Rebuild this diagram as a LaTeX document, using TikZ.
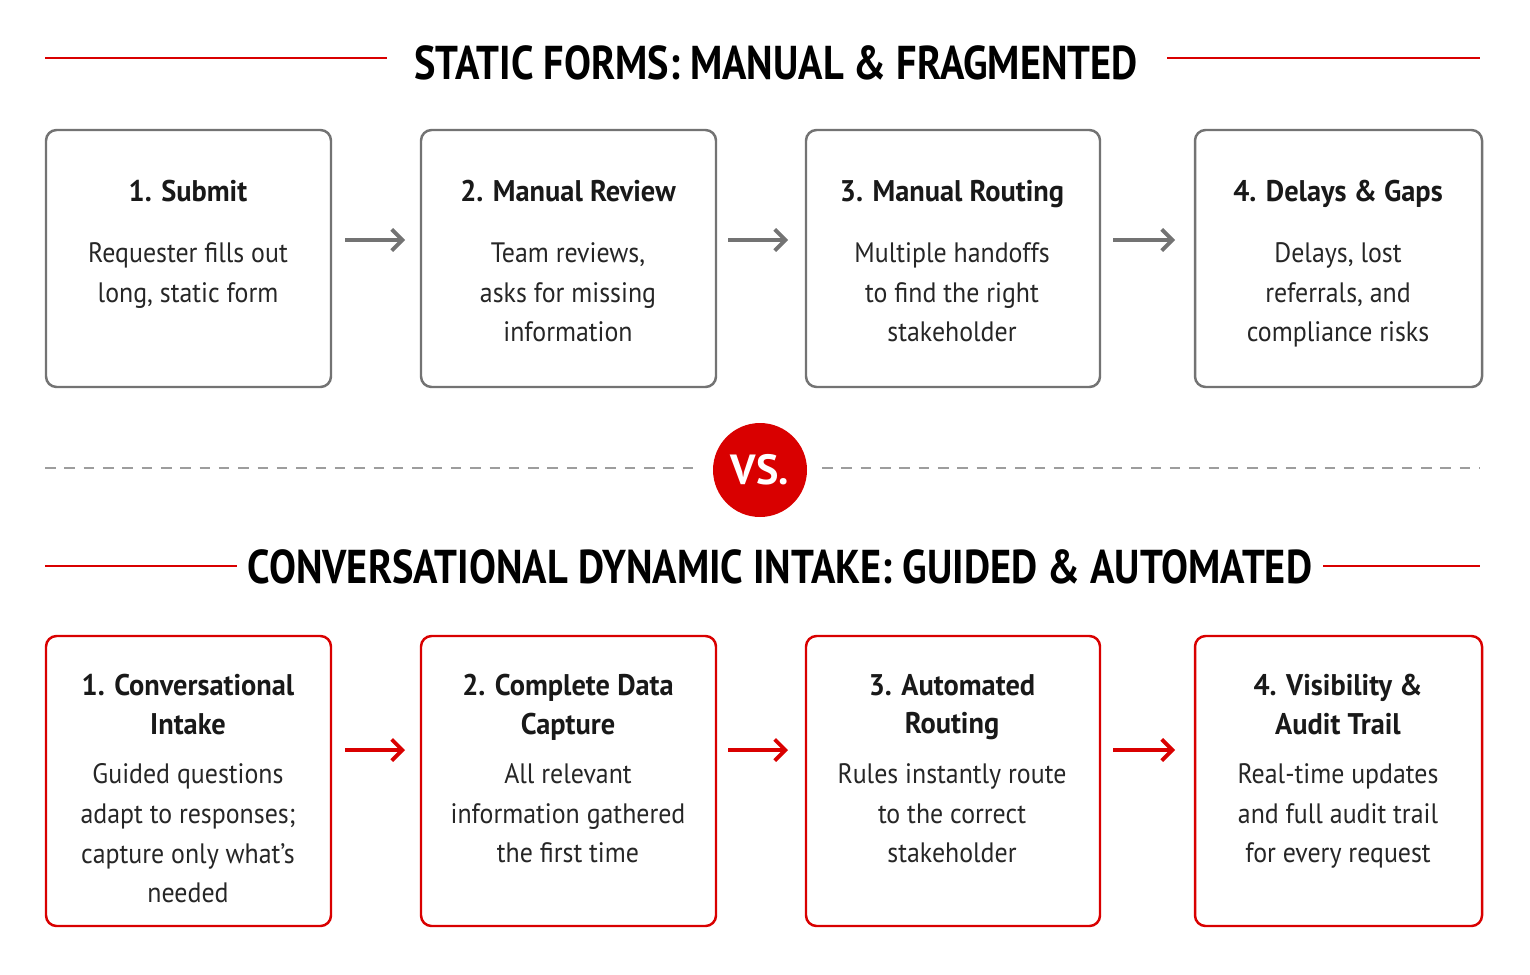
\documentclass[tikz,border=0pt]{standalone}
\usepackage{fontspec}
\setmainfont{PT Sans}
\usetikzlibrary{positioning,arrows.meta}
\colorlet{accred}{red!85!black}
\colorlet{boxgray}{black!55}
\tikzset{
  box/.style={draw=boxgray, line width=1.4pt, rounded corners=6pt},
  head/.style={font=\fontsize{27}{32}\selectfont\bfseries, xscale=0.85, transform shape},
  ttl/.style={font=\fontsize{17}{22}\selectfont\bfseries, align=center, text=black!90, xscale=0.95, transform shape},
  body/.style={font=\fontsize{16}{22.7}\selectfont, align=center, text=black!85, xscale=0.92, transform shape},
  flow/.style={-{Straight Barb[length=6pt,width=12pt]}, line width=2.2pt, draw=boxgray},
  redflow/.style={flow, draw=accred},
  rule/.style={accred, line width=1.5pt}
}
\begin{document}
\begin{tikzpicture}[x=0.02cm,y=-0.02cm]
\useasboundingbox (0,0) rectangle (1530,974);
% top section
\node[head] (head1) at (776,63) {STATIC FORMS: MANUAL \& FRAGMENTED};
\draw[rule] (45,58) -- (387,58);
\draw[rule] (1167,58) -- (1480,58);
\foreach \n/\xa/\xb in {1/46/331,2/421/716,3/806/1100,4/1195/1482}{
  \draw[box] (\xa,130) rectangle (\xb,387);
}
\node[ttl,anchor=base] (t1) at (188,201) {1. Submit};
\node[ttl,anchor=base] (t2) at (568,201) {2. Manual Review};
\node[ttl,anchor=base] (t3) at (952,201) {3. Manual Routing};
\node[ttl,anchor=base] (t4) at (1338,201) {4. Delays \& Gaps};
\node[body,anchor=north] (b1) at (188,236) {Requester fills out\\long, static form};
\node[body,anchor=north] (b2) at (568,236) {Team reviews,\\asks for missing\\information};
\node[body,anchor=north] (b3) at (952,236) {Multiple handoffs\\to find the right\\stakeholder};
\node[body,anchor=north] (b4) at (1338,236) {Delays, lost\\referrals, and\\compliance risks};
\foreach \xa/\xb in {345/405,728/788,1113/1175}{
  \draw[flow] (\xa,240) -- (\xb,240);
}
% divider
\draw[boxgray!70, line width=1pt, dash pattern=on 6pt off 5pt] (45,468) -- (697,468);
\draw[boxgray!70, line width=1pt, dash pattern=on 6pt off 5pt] (822,468) -- (1480,468);
\node[circle, fill=accred, minimum size=1.88cm, text=white, font=\fontsize{24}{28}\selectfont\bfseries] (vs) at (760,470) {VS.};
% bottom section
\node[head] (head2) at (780,567) {CONVERSATIONAL DYNAMIC INTAKE: GUIDED \& AUTOMATED};
\draw[rule] (45,566) -- (237,566);
\draw[rule] (1323,566) -- (1480,566);
\foreach \n/\xa/\xb in {1/46/331,2/421/716,3/806/1100,4/1195/1482}{
  \draw[box, draw=accred] (\xa,636) rectangle (\xb,926);
}
\node[ttl,anchor=north] (u1) at (188,668) {1. Conversational\\Intake};
\node[ttl,anchor=north] (u2) at (568,668) {2. Complete Data\\Capture};
\node[ttl,anchor=north] (u3) at (952,668) {3. Automated\\Routing};
\node[ttl,anchor=north] (u4) at (1338,668) {4. Visibility \&\\Audit Trail};
\node[body,anchor=north] (c1) at (188,757) {Guided questions\\adapt to responses;\\capture only what’s\\needed};
\node[body,anchor=north] (c2) at (568,757) {All relevant\\information gathered\\the first time};
\node[body,anchor=north] (c3) at (952,757) {Rules instantly route\\to the correct\\stakeholder};
\node[body,anchor=north] (c4) at (1338,757) {Real-time updates\\and full audit trail\\for every request};
\foreach \xa/\xb in {345/405,728/788,1113/1175}{
  \draw[redflow] (\xa,750) -- (\xb,750);
}
\end{tikzpicture}
\end{document}
